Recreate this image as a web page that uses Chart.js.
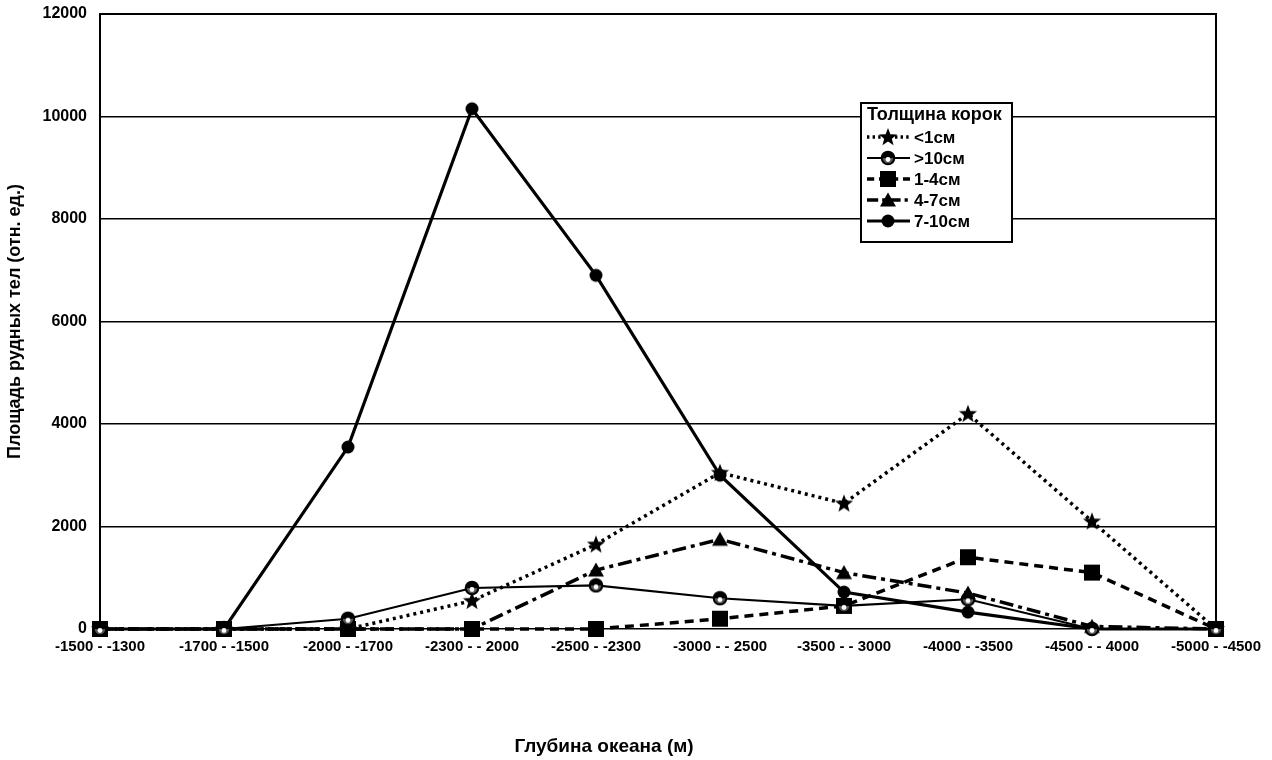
<!DOCTYPE html>
<html><head><meta charset="utf-8">
<script src="https://cdn.jsdelivr.net/npm/chart.js@4/dist/chart.umd.min.js"></script>
<style>html,body{margin:0;padding:0;background:#fff}#wrap{width:1272px;height:760px}</style>
</head><body><div id="wrap"><canvas id="c" width="1272" height="760"></canvas></div>
<script>
const categories = ['-1500 - -1300','-1700 - -1500','-2000 - -1700','-2300 - - 2000','-2500 - -2300','-3000 - - 2500','-3500 - - 3000','-4000 - -3500','-4500 - - 4000','-5000 - -4500'];
const seriesNames = ['<1см','>10см','1-4см','4-7см','7-10см'];
const lt1   = [0,0,0,550,1650,3050,2450,4200,2100,0];
const gt10  = [0,0,200,800,850,600,450,580,0,0];
const s1_4  = [0,0,0,0,0,200,450,1400,1100,0];
const s4_7  = [0,0,0,0,1150,1750,1100,700,50,0];
const s7_10 = [0,0,3550,10150,6900,3000,720,330,0,0];
const yTicks = [0,2000,4000,6000,8000,10000,12000];
const legendTitle = 'Толщина корок';
const xTitle = 'Глубина океана (м)';
const yTitle = 'Площадь рудных тел (отн. ед.)';

const FONT = "'Liberation Sans', Arial, Helvetica, sans-serif";

function mk(w,h,fn){const c=document.createElement('canvas');c.width=w;c.height=h;const g=c.getContext('2d');fn(g,w,h);return c;}
const starImg = mk(20,20,(g)=>{g.fillStyle='#000';g.beginPath();for(let i=0;i<10;i++){const r=i%2?4:9.5;const a=-Math.PI/2+i*Math.PI/5;g.lineTo(10+r*Math.cos(a),10.5+r*Math.sin(a));}g.closePath();g.fill();});
const halfImg = mk(16,16,(g)=>{g.fillStyle='#000';g.beginPath();g.arc(8,8,6.3,Math.PI,0);g.closePath();g.fill();g.fillStyle='#555';g.beginPath();g.arc(8,8,6.3,0,Math.PI);g.closePath();g.fill();g.fillStyle='#fff';g.beginPath();g.arc(8,9.5,2.4,0,Math.PI*2);g.fill();g.strokeStyle='#000';g.lineWidth=2;g.beginPath();g.arc(8,8,6.3,0,Math.PI*2);g.stroke();});
const sqImg = mk(18,18,(g)=>{g.fillStyle='#000';g.fillRect(1,1,16,16);});
const triImg = mk(18,18,(g)=>{g.fillStyle='#000';g.beginPath();g.moveTo(9,1.5);g.lineTo(17,15.5);g.lineTo(1,15.5);g.closePath();g.fill();});
const dotImg = mk(16,16,(g)=>{g.fillStyle='#000';g.beginPath();g.arc(8,8,6.5,0,Math.PI*2);g.fill();});

const styles = [
  {data:lt1, img:starImg, dash:[3,4], width:3.5, order:4},
  {data:gt10, img:halfImg, dash:[], width:2.2, order:0},
  {data:s1_4, img:sqImg, dash:[9,6], width:3.5, order:1},
  {data:s4_7, img:triImg, dash:[14,5,4,5], width:3.5, order:3},
  {data:s7_10, img:dotImg, dash:[], width:3.2, order:2}
];

const datasets = styles.map((s,i)=>({
  label: seriesNames[i], data: s.data, borderColor:'#000', backgroundColor:'#000',
  borderWidth: s.width, borderDash: s.dash, borderCapStyle:'butt', tension:0,
  pointStyle: s.img, pointRadius: 8, order: s.order, fill:false, clip:false
}));

const framePlugin = {
  id:'frame',
  beforeDatasetsDraw(chart){
    const {ctx, chartArea:a} = chart;
    ctx.save();ctx.strokeStyle='#000';ctx.lineWidth=2;
    ctx.beginPath();ctx.moveTo(a.left,a.top);ctx.lineTo(a.right,a.top);ctx.lineTo(a.right,a.bottom);ctx.stroke();
    ctx.restore();
  },
  afterDraw(chart){
    const ctx = chart.ctx;
    ctx.save();
    const L=861,T=103,R=1012,B=242;
    ctx.fillStyle='#fff';ctx.fillRect(L,T,R-L,B-T);
    ctx.strokeStyle='#000';ctx.lineWidth=2;ctx.strokeRect(L,T,R-L,B-T);
    ctx.fillStyle='#000';ctx.textBaseline='middle';ctx.textAlign='left';
    ctx.font="bold 18px "+FONT;
    ctx.fillText(legendTitle,867,115);
    const ys=[137,158,179,200,221];
    ctx.font="bold 17px "+FONT;
    styles.forEach((s,i)=>{
      const y=ys[i];
      ctx.setLineDash(s.dash.map(v=>v*0.8));ctx.lineWidth=s.width;ctx.strokeStyle='#000';
      ctx.beginPath();ctx.moveTo(867,y);ctx.lineTo(910,y);ctx.stroke();
      ctx.setLineDash([]);
      ctx.drawImage(s.img,888-s.img.width/2,y-s.img.height/2);
      ctx.fillText(seriesNames[i],914,y+1);
    });
    ctx.font="bold 19px "+FONT;ctx.textAlign='center';
    ctx.fillText(xTitle,604,747);
    ctx.restore();
  }
};

new Chart(document.getElementById('c'),{
  type:'line',
  data:{labels:categories, datasets},
  options:{
    responsive:false, animation:false, devicePixelRatio:1,
    layout:{padding:{top:14,right:56,left:0,bottom:0}},
    plugins:{legend:{display:false},tooltip:{enabled:false}},
    scales:{
      x:{
        offset:false,
        grid:{display:false,drawTicks:false},
        border:{display:false},
        ticks:{color:'#000',font:{family:FONT,size:15,weight:'bold'},padding:9,autoSkip:false,maxRotation:0,minRotation:0},
        afterFit(s){s.height=131;s.paddingLeft=0;s.paddingRight=0;}
      },
      y:{
        min:0,max:12000,
        afterBuildTicks(s){s.ticks=yTicks.map(v=>({value:v}));},
        ticks:{color:'#000',font:{family:FONT,size:16,weight:'bold'},padding:13,callback:(v)=>String(v)},
        grid:{color:'#000',lineWidth:1.5,drawTicks:false},
        border:{color:'#000',width:2},
        title:{display:true,text:yTitle,color:'#000',font:{family:FONT,size:18,weight:'bold'},padding:{top:4,bottom:0}},
        afterFit(s){s.width=100;s.paddingTop=0;s.paddingBottom=0;}
      }
    }
  },
  plugins:[framePlugin]
});
</script></body></html>
